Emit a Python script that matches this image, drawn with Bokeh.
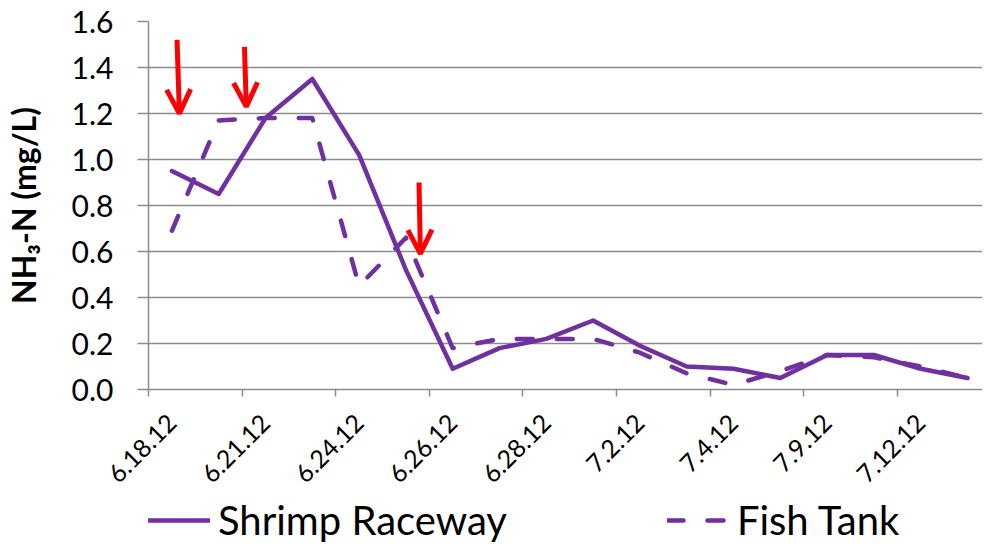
import math
from bokeh.plotting import figure
from bokeh.layouts import column
from bokeh.models import (FixedTicker, Range1d, Legend, LegendItem, Arrow, OpenHead,
                          NumeralTickFormatter)
from bokeh.embed import file_html
from bokeh.resources import INLINE

# ---- data ----
x_index = list(range(18))
tick_labels = ["6.18.12", "6.21.12", "6.24.12", "6.26.12", "6.28.12",
               "7.2.12", "7.4.12", "7.9.12", "7.12.12"]
shrimp_raceway = [0.95, 0.85, 1.18, 1.35, 1.02, 0.52, 0.09, 0.18, 0.22,
                  0.30, 0.19, 0.10, 0.09, 0.05, 0.15, 0.15, 0.09, 0.05]
fish_tank = [0.69, 1.17, 1.18, 1.18, 0.45, 0.66, 0.18, 0.22, 0.22,
             0.22, 0.16, 0.07, 0.02, 0.08, 0.15, 0.14, 0.10, 0.05]
series_names = ["Shrimp Raceway", "Fish Tank"]
# red annotation arrows: (x_start, y_start, x_end, y_end) in data units
arrows = [(0.11, 1.52, 0.16, 1.20),
          (1.55, 1.49, 1.59, 1.23),
          (5.28, 0.90, 5.31, 0.59)]

PURPLE = "#7030A0"
GRAY = "#8C8C8C"
FONT = "Lato"
DASH = "16 24"

p = figure(width=982, height=494,
           x_range=Range1d(-0.5, 17.32), y_range=Range1d(0, 1.6),
           output_backend="svg", toolbar_location=None,
           min_border_left=140, min_border_right=0, min_border_top=21,
           min_border_bottom=105)
p.outline_line_color = None
p.background_fill_color = "white"
p.border_fill_color = "white"

# grid
p.xgrid.visible = False
p.ygrid.grid_line_color = GRAY
p.ygrid.grid_line_width = 1.5

# y axis
yax = p.yaxis[0]
yax.ticker = FixedTicker(ticks=[0, 0.2, 0.4, 0.6, 0.8, 1.0, 1.2, 1.4, 1.6])
yax.formatter = NumeralTickFormatter(format="0.0")
yax.axis_line_color = GRAY
yax.axis_line_width = 1.5
yax.major_tick_line_color = GRAY
yax.major_tick_line_width = 1.5
yax.major_tick_out = 11
yax.major_tick_in = 0
yax.minor_tick_line_color = None
yax.major_label_text_font = FONT
yax.major_label_text_font_size = "30px"
yax.major_label_text_color = "black"
yax.major_label_standoff = 24
yax.axis_label = "NH\u2083-N (mg/L)"
yax.axis_label_text_font = FONT
yax.axis_label_text_font_style = "bold"
yax.axis_label_text_font_size = "32px"
yax.axis_label_text_color = "black"
yax.axis_label_standoff = 26

# x axis
xax = p.xaxis[0]
major = [2 * i for i in range(len(tick_labels))]
xax.ticker = FixedTicker(ticks=major,
                         minor_ticks=[m - 0.5 for m in major] + [17.5])
xax.major_label_overrides = {m: lab for m, lab in zip(major, tick_labels)}
xax.major_label_orientation = math.pi / 4
xax.axis_line_color = GRAY
xax.axis_line_width = 1.5
xax.major_tick_line_color = None
xax.major_tick_out = 0
xax.major_tick_in = 0
xax.minor_tick_line_color = GRAY
xax.minor_tick_line_width = 1.5
xax.minor_tick_out = 7
xax.minor_tick_in = 0
xax.major_label_text_font = FONT
xax.major_label_text_font_size = "25px"
xax.major_label_text_color = "black"
xax.major_label_standoff = 22

# series
p.line(x_index, shrimp_raceway, line_color=PURPLE, line_width=4.5,
       line_join="round", line_cap="round")
p.line(x_index, fish_tank, line_color=PURPLE, line_width=4.5,
       line_dash=DASH, line_join="round", line_cap="round")

# arrows
for (xs, ys, xe, ye) in arrows:
    p.add_layout(Arrow(x_start=xs, y_start=ys, x_end=xe, y_end=ye,
                       line_color="#FF0000", line_width=5,
                       end=OpenHead(size=24, line_color="#FF0000", line_width=5)))

# legend strip (separate figure under the chart; its own copies of the
# series lie outside its visible range, only their legend swatches show)
lg = figure(width=982, height=50, x_range=Range1d(-0.5, 17.32),
            y_range=Range1d(5, 6),
            output_backend="svg", toolbar_location=None,
            x_axis_location=None, y_axis_location=None, min_border=0)
lg.outline_line_color = None
lg.grid.visible = False
lg.background_fill_color = "white"
lg.border_fill_color = "white"
l1 = lg.line(x_index, shrimp_raceway, line_color=PURPLE, line_width=4.5,
             line_cap="round")
l2 = lg.line(x_index, fish_tank, line_color=PURPLE, line_width=4.5,
             line_cap="round", line_dash=DASH)
legend = Legend(items=[LegendItem(label=series_names[0], renderers=[l1]),
                       LegendItem(label=series_names[1], renderers=[l2])],
                orientation="horizontal", location=(0, 0),
                label_text_font=FONT, label_text_font_size="40px",
                label_text_color="black",
                glyph_width=62, glyph_height=40, label_standoff=8,
                spacing=160, padding=0, margin=0,
                border_line_color=None, background_fill_alpha=0)
lg.add_layout(legend, "center")

layout = column(p, lg, spacing=0)
open("out.html", "w").write(file_html(layout, INLINE))
